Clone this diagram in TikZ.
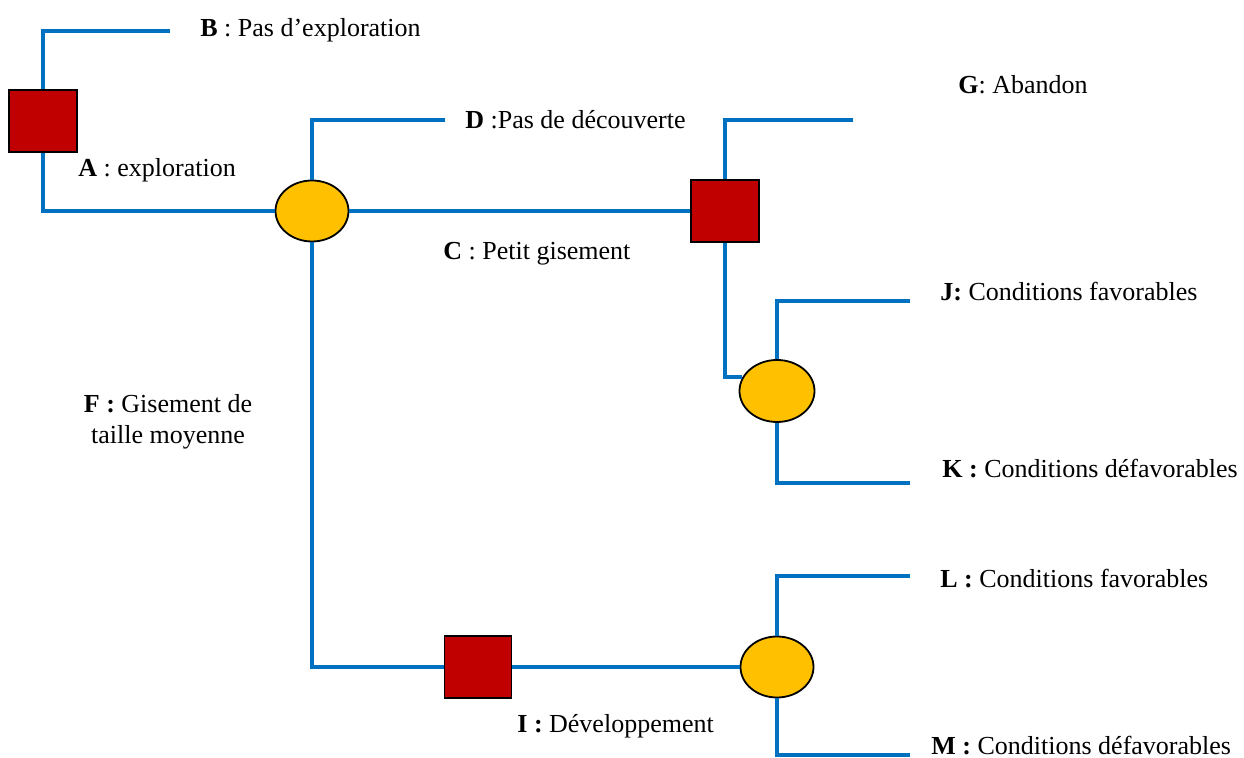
\documentclass[tikz,border=0pt]{standalone}
\usepackage{fontspec}
\setmainfont{Liberation Serif}
\usetikzlibrary{shapes.geometric}
\definecolor{lnblue}{HTML}{0070C0}
\definecolor{sqred}{HTML}{C00000}
\definecolor{ellyel}{HTML}{FFC000}
\tikzset{
  decbox/.style={rectangle, draw=black, line width=0.9pt, fill=sqred, minimum width=34pt, minimum height=31pt, inner sep=0pt},
  chance/.style={ellipse, draw=black, line width=0.9pt, fill=ellyel, minimum width=36.5pt, minimum height=30.5pt, inner sep=0pt},
  branch/.style={draw=lnblue, line width=2pt},
  lbl/.style={anchor=base west, inner sep=0pt, font=\fontsize{13}{15.6}\selectfont}
}
\begin{document}
\begin{tikzpicture}[x=0.5pt,y=-0.5pt]
\useasboundingbox (0,0) rectangle (1244,758);
% shapes
\node[decbox] (sqA) at (43,121) {};
\node[chance] (e1) at (312,211) {};
\node[decbox] (sq2) at (725,211) {};
\node[chance, minimum width=37.5pt, minimum height=31pt] (e3) at (777,391) {};
\node[decbox, minimum width=33.5pt] (sq4) at (478,667) {};
\node[chance] (e4) at (777,667) {};
% free ends
\coordinate (bEnd) at (170,31);
\coordinate (dEnd) at (445,120);
\coordinate (gEnd) at (853,120);
\coordinate (jEnd) at (910,301);
\coordinate (kEnd) at (910,483);
\coordinate (lEnd) at (910,576);
\coordinate (mEnd) at (910,755);
% connectors
\draw[branch] (sqA.north) |- (bEnd);
\draw[branch] (sqA.south) |- (e1.west);
\draw[branch] (e1.north) |- (dEnd);
\draw[branch] (e1.east) -- (sq2.west);
\draw[branch] (sq2.north) |- (gEnd);
\draw[branch] (sq2.south) |- (e3.158);
\draw[branch] (e3.north) |- (jEnd);
\draw[branch] (e3.south) |- (kEnd);
\draw[branch] (e1.south) |- (sq4.west);
\draw[branch] (sq4.east) -- (e4.west);
\draw[branch] (e4.north) |- (lEnd);
\draw[branch] (e4.south) |- (mEnd);
% labels
\node[lbl] (tB) at (200,37) {\textbf{B} : Pas d’exploration};
\node[lbl] (tA) at (78,177) {\textbf{A} : exploration};
\node[lbl] (tD) at (465,129) {\textbf{D} :Pas de découverte};
\node[lbl] (tC) at (443,260) {\textbf{C} : Petit gisement};
\node[lbl] (tG) at (958,94) {\textbf{G}: Abandon};
\node[lbl] (tJ) at (940,301) {\textbf{J:} Conditions favorables};
\node[lbl] (tK) at (942,478) {\textbf{K :} Conditions défavorables};
\node[inner sep=0pt, align=center, font=\fontsize{13}{15.6}\selectfont, anchor=center] (tF) at (168,422) {\textbf{F :} Gisement de\\taille moyenne};
\node[lbl] (tL) at (940,588) {\textbf{L :} Conditions favorables};
\node[lbl] (tM) at (931,755) {\textbf{M :} Conditions défavorables};
\node[lbl] (tI) at (517,733) {\textbf{I :} Développement};
\end{tikzpicture}
\end{document}
